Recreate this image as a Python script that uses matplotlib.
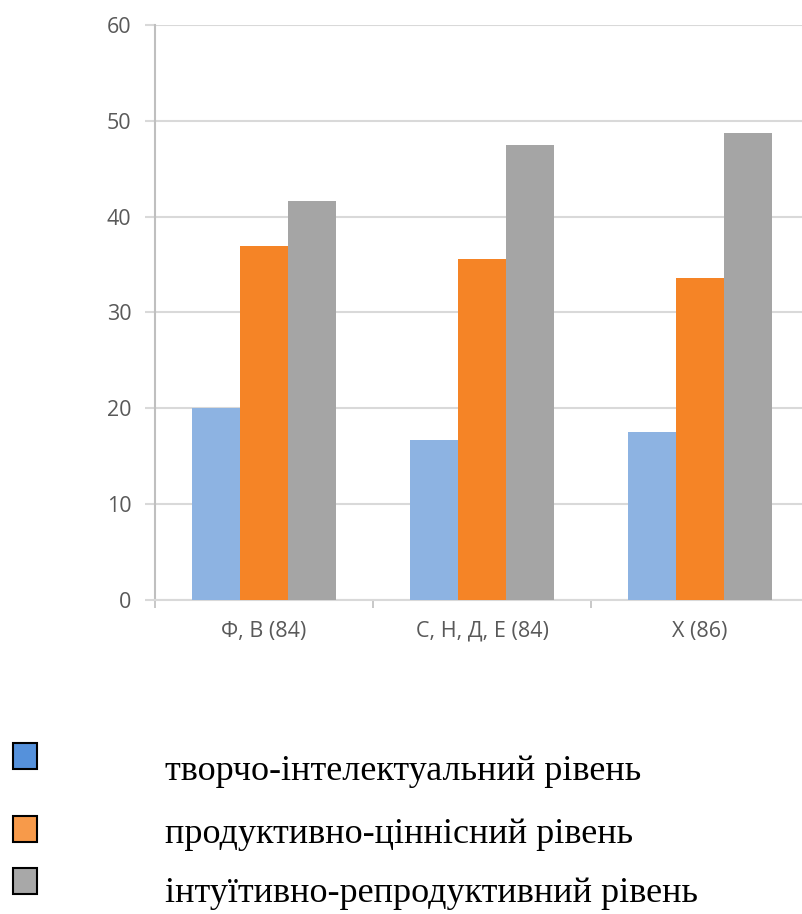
import numpy as np
import matplotlib.pyplot as plt
from matplotlib.patches import Rectangle

# дані
categories = ["Ф, В (84)", "С, Н, Д, Е (84)", "Х (86)"]
levels = ["творчо-інтелектуальний рівень",
          "продуктивно-ціннісний рівень",
          "інтуїтивно-репродуктивний рівень"]
creative = [20.0, 16.7, 17.5]
productive = [36.9, 35.6, 33.6]
intuitive = [41.6, 47.5, 48.7]
series = [creative, productive, intuitive]

bar_colors = ["#8DB3E2", "#F58426", "#A5A5A5"]
legend_colors = ["#5591DB", "#F79A4A", "#A8A8A8"]

fig = plt.figure(figsize=(8.03, 9.14), dpi=100)
ax = fig.add_axes([155 / 803, 1 - 600 / 914, 648 / 803, 575 / 914])

x = np.arange(len(categories))
w = 0.22
for i, vals in enumerate(series):
    ax.bar(x + (i - 1) * w, vals, w, color=bar_colors[i], zorder=3)

ax.set_ylim(0, 60)
ax.set_xlim(-0.5, 2.472)
ax.set_yticks(range(0, 61, 10))
ax.set_xticks(x)
ax.set_xticklabels(categories)
ax.set_xticks([-0.5, 0.5, 1.5], minor=True)

ax.grid(axis="y", color="#D9D9D9", linewidth=1.5, zorder=0)
for s in ["top", "right"]:
    ax.spines[s].set_visible(False)
ax.spines["left"].set_color("#BFBFBF")
ax.spines["left"].set_linewidth(1.5)
ax.spines["bottom"].set_color("#D9D9D9")
ax.spines["bottom"].set_linewidth(1.5)

ax.tick_params(axis="y", length=7, width=1.5, color="#D9D9D9", pad=10,
               labelsize=15.5, labelcolor="#595959")
ax.tick_params(axis="x", which="major", length=0, pad=15,
               labelsize=15.5, labelcolor="#595959")
ax.tick_params(axis="x", which="minor", length=6, width=1.2, color="#BFBFBF")
for t in ax.get_xticklabels() + ax.get_yticklabels():
    t.set_family("Open Sans")

# легенда
box_y = [743, 816, 868]
text_base = [780, 843, 902]
for lab, col, by, ty in zip(levels, legend_colors, box_y, text_base):
    fig.patches.append(Rectangle((13 / 803, 1 - (by + 26) / 914), 24 / 803, 26 / 914,
                                 transform=fig.transFigure, facecolor=col,
                                 edgecolor="black", linewidth=1.5))
    fig.text(165 / 803, 1 - ty / 914, lab, family="Liberation Serif",
             fontsize=26, va="baseline", ha="left", color="black")

plt.savefig("out.png", dpi=100)
